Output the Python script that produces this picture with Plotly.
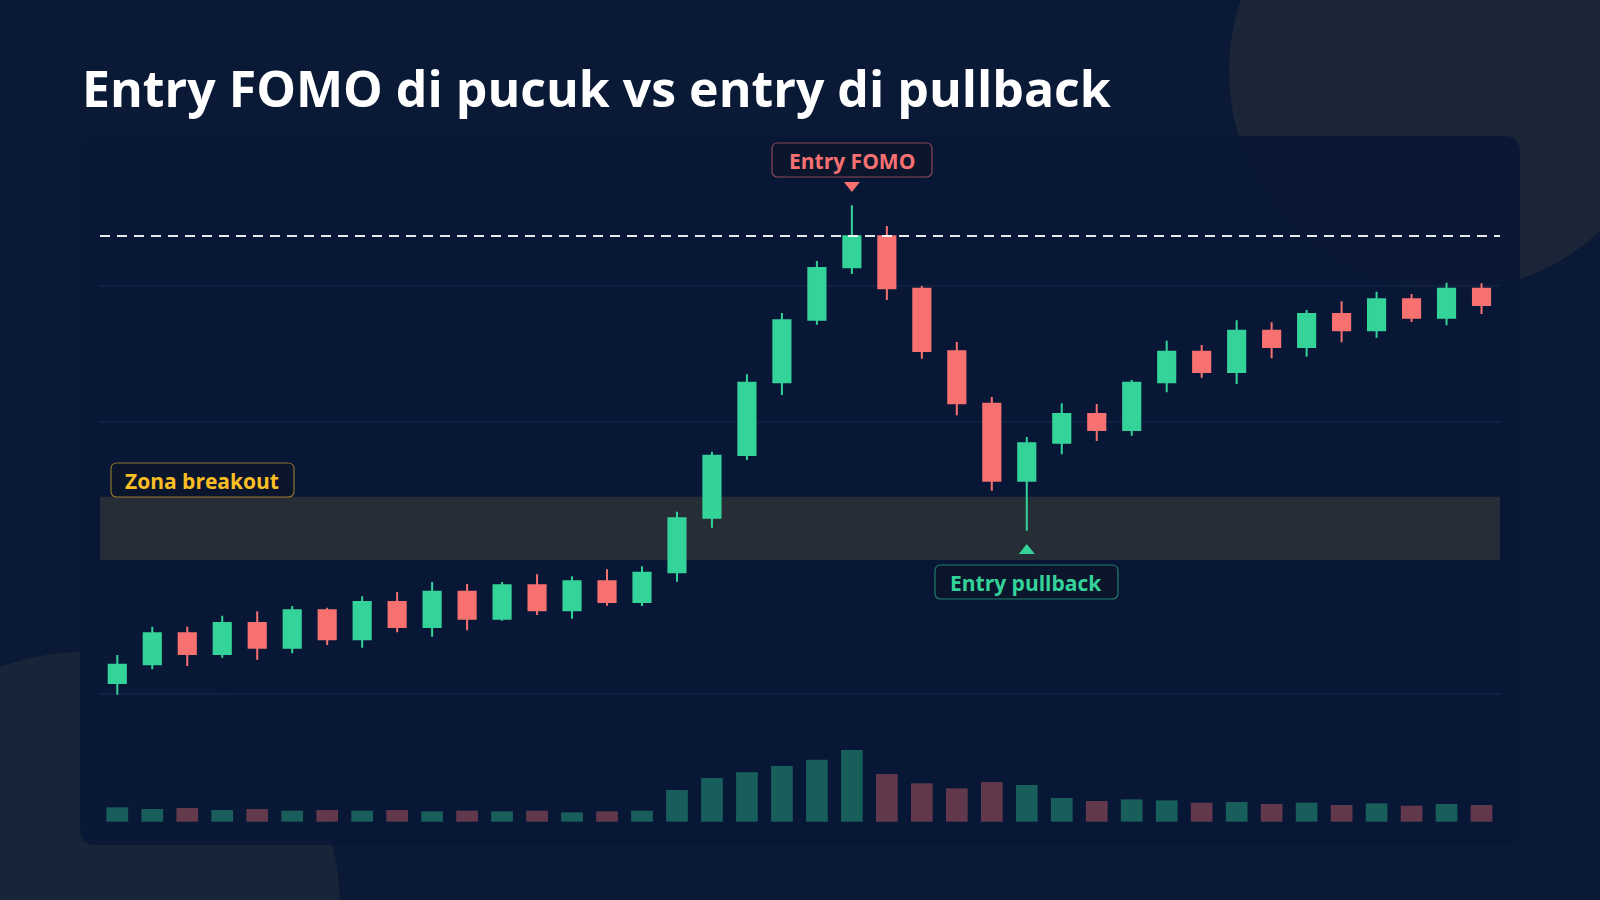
import plotly.graph_objects as go

W, H = 1600, 900
idx = list(range(40))
opens = [100.81,102.18,104.46,102.94,105.22,103.40,106.15,104.02,106.76,104.93,
         107.52,105.54,107.99,106.15,108.29,106.76,108.95,112.96,117.57,122.92,
         127.52,131.37,133.65,129.80,125.20,121.35,115.68,118.48,120.59,119.41,
         122.92,125.17,123.68,126.71,125.51,127.94,126.74,129.02,127.67,129.80]
closes = [102.15,104.46,102.94,105.22,103.40,106.15,104.02,106.76,104.93,107.52,
          105.54,107.99,106.15,108.29,106.76,108.92,112.92,117.52,122.89,127.48,
          131.32,133.65,129.83,125.22,121.38,115.68,118.43,120.59,119.41,122.89,
          125.17,123.68,126.71,125.51,127.94,126.74,129.02,127.67,129.80,128.60]
highs = [102.87,104.95,104.95,105.76,106.08,106.47,106.35,107.18,107.50,108.24,
         108.09,108.24,108.80,108.65,109.17,109.39,113.40,117.81,123.51,128.01,
         131.84,135.93,134.41,130.00,125.88,121.84,118.90,121.38,121.32,123.09,
         125.98,125.66,127.48,127.33,128.24,128.88,129.58,129.41,130.24,130.20]
lows = [99.95,101.82,102.06,102.67,102.52,102.99,103.60,103.40,104.54,104.21,
        104.68,105.39,105.81,105.54,106.49,106.47,108.26,112.23,117.21,121.99,
        127.15,130.88,128.97,124.65,120.49,114.95,112.01,117.63,118.60,118.99,
        122.18,123.26,122.79,124.68,124.80,125.86,126.20,127.35,127.11,127.94]
volumes = [43,38,41,35,38,33,35,33,35,31,33,31,33,28,31,33,95,131,148,167,
           186,215,143,115,100,119,110,71,62,67,64,57,59,53,57,50,55,48,53,50]
grid_levels = [100, 110, 120, 130]
zone = [109.85, 114.5]
fomo_level = 133.68
fomo_i, pull_i = 21, 26

GREEN, RED = "#34d399", "#f87171"
BG = "#0a1936"

X0, DX = 117.3, 34.98
def xpix(i): return X0 + DX * i
def px(x): return x / W
def py(y): return 1 - y / H

def rrect(x0, y0, x1, y1, r):
    a, b, c, d = px(x0), px(x1), py(y0), py(y1)
    rx, ry = r / W, r / H
    return (f"M{a+rx},{c} L{b-rx},{c} Q{b},{c} {b},{c-ry} L{b},{d+ry} Q{b},{d} {b-rx},{d} "
            f"L{a+rx},{d} Q{a},{d} {a},{d+ry} L{a},{c-ry} Q{a},{c} {a+rx},{c} Z")

fig = go.Figure()
vol_colors = ["rgba(52,211,153,0.38)" if c >= o else "rgba(248,113,113,0.38)" for o, c in zip(opens, closes)]
fig.add_trace(go.Bar(x=idx, y=volumes, marker=dict(color=vol_colors, line_width=0), width=0.62,
                     yaxis="y2", hoverinfo="skip"))
fig.add_trace(go.Candlestick(x=idx, open=opens, high=highs, low=lows, close=closes,
                             increasing=dict(line=dict(color=GREEN, width=2), fillcolor=GREEN),
                             decreasing=dict(line=dict(color=RED, width=2), fillcolor=RED),
                             whiskerwidth=0, hoverinfo="skip"))

shapes = []
shapes.append(dict(type="circle", xref="paper", yref="paper", x0=px(1229), x1=px(1669), y0=py(-149), y1=py(291),
                   fillcolor="#1b2538", line_width=0, layer="below"))
shapes.append(dict(type="circle", xref="paper", yref="paper", x0=px(-170), x1=px(340), y0=py(652), y1=py(1162),
                   fillcolor="#182438", line_width=0, layer="below"))
shapes.append(dict(type="path", xref="paper", yref="paper", path=rrect(80, 136, 1520, 845, 16),
                   fillcolor="rgba(9,24,54,0.93)", line_width=0, layer="below"))
for g in grid_levels:
    shapes.append(dict(type="line", xref="paper", yref="y", x0=px(100), x1=px(1500), y0=g, y1=g,
                       line=dict(color="rgba(40,60,100,0.5)", width=1), layer="below"))
shapes.append(dict(type="rect", xref="paper", yref="y", x0=px(100), x1=px(1500), y0=zone[0], y1=zone[1],
                   fillcolor="#272d36", line_width=0, layer="below"))
shapes.append(dict(type="line", xref="paper", yref="y", x0=px(100), x1=px(1500), y0=fomo_level, y1=fomo_level,
                   line=dict(color="rgba(255,255,255,0.9)", width=2, dash="10px,7px")))
shapes.append(dict(type="path", xref="paper", yref="paper", path=rrect(772, 143, 932, 177, 6),
                   fillcolor="rgba(12,22,44,0.9)", line=dict(color="rgba(248,113,113,0.55)", width=1.2)))
shapes.append(dict(type="path", xref="paper", yref="paper", path=rrect(935, 565, 1118, 599, 6),
                   fillcolor="rgba(12,22,44,0.9)", line=dict(color="rgba(52,211,153,0.55)", width=1.2)))
shapes.append(dict(type="path", xref="paper", yref="paper", path=rrect(111, 463, 294, 497, 6),
                   fillcolor="rgba(12,22,44,0.9)", line=dict(color="rgba(251,191,36,0.55)", width=1.2)))
tx = xpix(fomo_i)
shapes.append(dict(type="path", xref="paper", yref="paper",
                   path=f"M{px(tx-8)},{py(182)} L{px(tx+8)},{py(182)} L{px(tx)},{py(192)} Z",
                   fillcolor=RED, line_width=0))
tx = xpix(pull_i)
shapes.append(dict(type="path", xref="paper", yref="paper",
                   path=f"M{px(tx-8)},{py(554)} L{px(tx+8)},{py(554)} L{px(tx)},{py(544)} Z",
                   fillcolor=GREEN, line_width=0))

ann = [
    dict(text="<b>Entry FOMO di pucuk vs entry di pullback</b>", x=px(80), y=py(88), xanchor="left", yanchor="middle",
         font=dict(size=50, color="white", family="Open Sans")),
    dict(text="<b>Entry FOMO</b>", x=px(852), y=py(161), font=dict(size=21, color=RED, family="Open Sans")),
    dict(text="<b>Entry pullback</b>", x=px(1026), y=py(583), font=dict(size=21, color=GREEN, family="Open Sans")),
    dict(text="<b>Zona breakout</b>", x=px(202), y=py(481), font=dict(size=21, color="#fbbf24", family="Open Sans")),
]
for a in ann:
    a.setdefault("xanchor", "center")
    a.setdefault("yanchor", "middle")
    a.update(xref="paper", yref="paper", showarrow=False)

fig.update_layout(
    width=W, height=H, margin=dict(l=0, r=0, t=0, b=0),
    paper_bgcolor=BG, plot_bgcolor="rgba(0,0,0,0)", showlegend=False,
    xaxis=dict(range=[-X0 / DX, (W - X0) / DX], visible=False, rangeslider=dict(visible=False), fixedrange=True),
    yaxis=dict(range=[100 - 206 / 13.6, 100 + 694 / 13.6], visible=False),
    yaxis2=dict(range=[-(900 - 821.7) * 3, 821.7 * 3], visible=False, overlaying="y"),
    shapes=shapes, annotations=ann,
)
fig.write_html("out.html", config={"displayModeBar": False},
               post_script="document.body.style.margin='0';document.body.style.background='%s';" % BG)
